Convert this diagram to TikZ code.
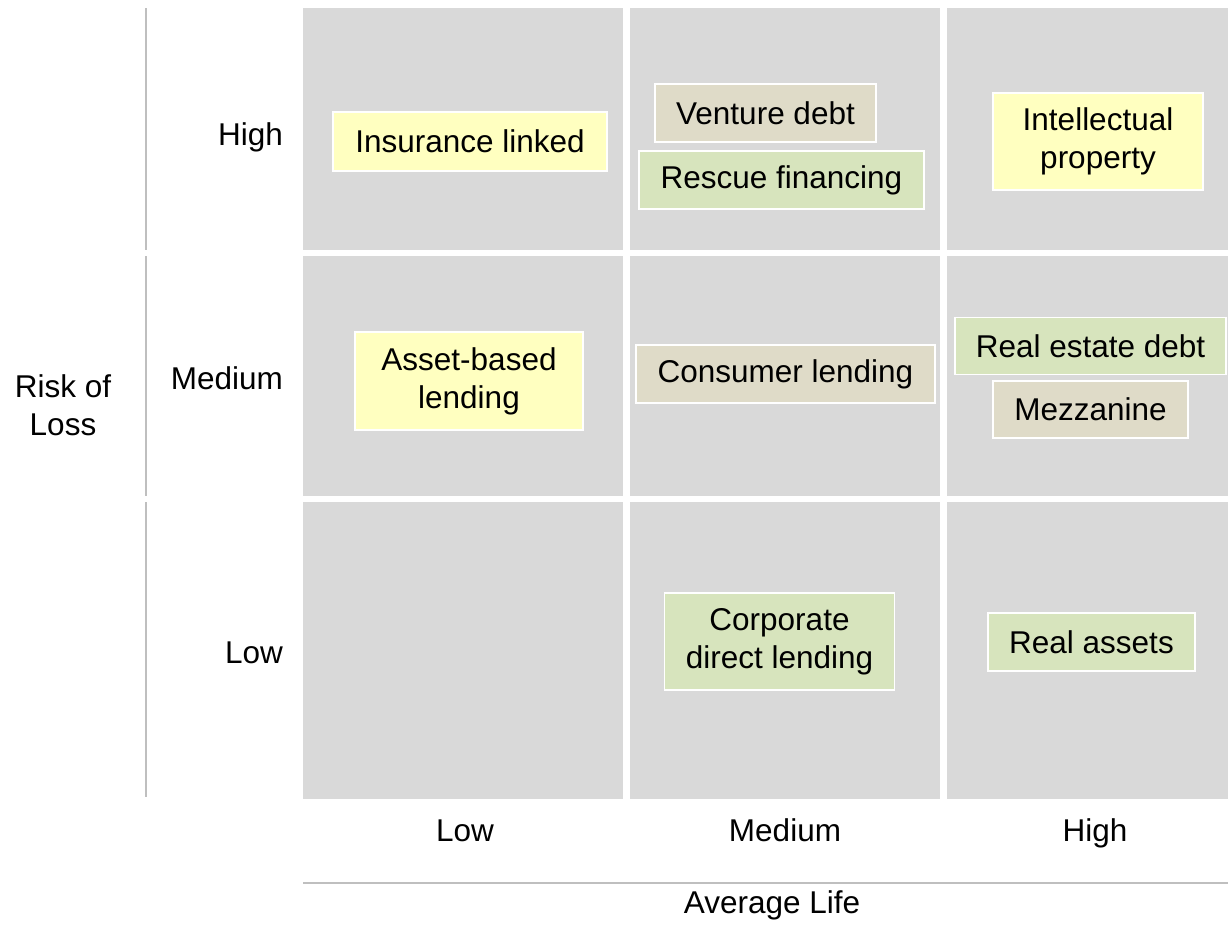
\documentclass[tikz,border=0pt]{standalone}
\usepackage{fontspec}
\setmainfont{Liberation Sans}
\definecolor{cellgray}{HTML}{D9D9D9}
\definecolor{axisgray}{HTML}{BFBFBF}
\definecolor{boxyellow}{HTML}{FFFFC0}
\definecolor{boxtan}{HTML}{DFDBC8}
\definecolor{boxgreen}{HTML}{D7E4BD}
\begin{document}
\begin{tikzpicture}[x=1pt,y=-1pt,
  cellbox/.style={fill=cellgray},
  axisline/.style={draw=axisgray, line width=1.5pt},
  tagbox/.style={draw=white, line width=1.5pt, align=center, inner sep=0pt,
    font=\fontsize{31.5}{38}\selectfont, text=black},
  yel/.style={tagbox, fill=boxyellow},
  tan/.style={tagbox, fill=boxtan},
  grn/.style={tagbox, fill=boxgreen},
  lbl/.style={font=\fontsize{31.5}{38}\selectfont, text=black, inner sep=0pt, align=center}]
\useasboundingbox (0,0) rectangle (1228,945);
\fill[white] (0,0) rectangle (1228,945);
% grid cells
\foreach \xa/\xb in {303/623, 630/940, 947/1228}{
  \foreach \ya/\yb in {8/250, 256/496, 502/799}{
    \fill[cellbox] (\xa,\ya) rectangle (\xb,\yb);
  }
}
% axes
\coordinate (v1a) at (146,8);   \coordinate (v1b) at (146,250);
\coordinate (v2a) at (146,256); \coordinate (v2b) at (146,496);
\coordinate (v3a) at (146,502); \coordinate (v3b) at (146,797);
\draw[axisline] (v1a) -- (v1b);
\draw[axisline] (v2a) -- (v2b);
\draw[axisline] (v3a) -- (v3b);
\coordinate (ha) at (303,883); \coordinate (hb) at (1228,883);
\draw[axisline] (ha) -- (hb);
% boxes
\node[yel, minimum width=274pt, minimum height=59pt] (ins) at (470,141.5) {Insurance linked};
\node[tan, minimum width=221pt, minimum height=58pt] (vent) at (765.5,113) {Venture debt};
\node[grn, minimum width=285pt, minimum height=58pt] (resc) at (781.5,180) {Rescue financing};
\node[yel, minimum width=210pt, minimum height=97pt] (intel) at (1098,141.5) {Intellectual\\property};
\node[yel, minimum width=228pt, minimum height=98pt] (asset) at (469,381) {Asset-based\\lending};
\node[tan, minimum width=299pt, minimum height=58pt] (cons) at (785.5,374) {Consumer lending};
\node[grn, minimum width=271pt, minimum height=57pt] (reald) at (1090.5,346) {Real estate debt};
\node[tan, minimum width=195pt, minimum height=57pt] (mezz) at (1090.5,409.5) {Mezzanine};
\node[grn, minimum width=230pt, minimum height=97pt] (corp) at (779.5,641.5) {Corporate\\direct lending};
\node[grn, minimum width=207pt, minimum height=58pt] (reala) at (1091.5,642) {Real assets};
% row labels
\node[lbl, anchor=base east] (rhigh) at (283,145) {High};
\node[lbl, anchor=base east] (rmed) at (283,389) {Medium};
\node[lbl, anchor=base east] (rlow) at (283,663) {Low};
\node[lbl] (risk) at (63,405) {Risk of\\Loss};
% column labels
\node[lbl, anchor=base] (clow) at (465,841) {Low};
\node[lbl, anchor=base] (cmed) at (785,841) {Medium};
\node[lbl, anchor=base] (chigh) at (1095,841) {High};
\node[lbl, anchor=base] (avg) at (772,913) {Average Life};
\end{tikzpicture}
\end{document}
